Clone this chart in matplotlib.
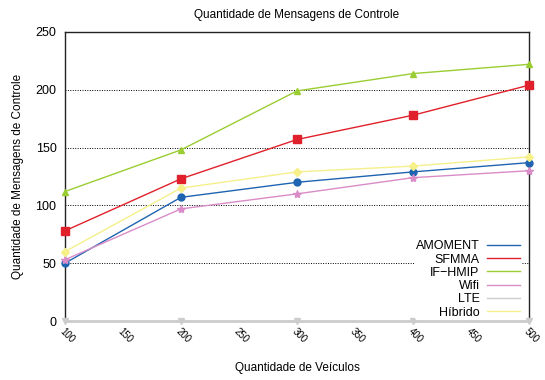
import numpy as np
import matplotlib.pyplot as plt

veiculos = [100, 200, 300, 400, 500]
amoment = [50, 107, 120, 129, 137]
sfmma = [78, 123, 157, 178, 204]
if_hmip = [112, 148, 199, 214, 222]
wifi = [53, 97, 110, 124, 130]
lte = [0, 0, 0, 0, 0]
hibrido = [60, 115, 129, 134, 142]

series = [
    ('AMOMENT', amoment, '#1f64b0', 'o', 5),
    ('SFMMA', sfmma, '#e0202a', 's', 6),
    ('IF\u2212HMIP', if_hmip, '#9acd32', '^', 5),
    ('Wifi', wifi, '#d98cc8', '*', 6),
    ('LTE', lte, '#cccccc', 'v', 4),
    ('Híbrido', hibrido, '#f5f08a', 'D', 4),
]

plt.rcParams['font.family'] = ['Liberation Sans', 'DejaVu Sans']

fig = plt.figure(figsize=(5.45, 3.8), dpi=100)
ax = fig.add_axes([0.119, 0.155, 0.852, 0.761])

for name, vals, color, marker, ms in series:
    ax.plot(veiculos, vals, color=color, marker=marker, markersize=ms,
            linewidth=1.0, label=name, clip_on=False, zorder=3)

ax.set_xlim(100, 500)
ax.set_ylim(0, 250)
ax.set_xticks(np.arange(100, 501, 50))
ax.set_yticks(np.arange(0, 251, 50))
ax.tick_params(axis='x', labelrotation=-45, labelsize=7, length=0, pad=4)
ax.tick_params(axis='y', labelsize=9, length=0, pad=6)
for lbl in ax.get_xticklabels():
    lbl.set_ha('left')
    lbl.set_rotation_mode('anchor')

ax.yaxis.grid(True, linestyle=(0, (1, 1.5)), color='black', linewidth=0.7)
for sp in ax.spines.values():
    sp.set_color('#222222')
    sp.set_linewidth(1.0)

ax.set_title('Quantidade de Mensagens de Controle', fontsize=8.5, pad=10)
ax.set_xlabel('Quantidade de Veículos', fontsize=8.5, labelpad=12)
ax.set_ylabel('Quantidade de Mensagens de Controle', fontsize=8.5, labelpad=8)

leg = ax.legend(loc='lower right', fontsize=9, frameon=True, framealpha=1,
                edgecolor='none', markerfirst=False, handlelength=2.6,
                labelspacing=0.1, borderpad=0.1, handletextpad=0.6,
                borderaxespad=0.1, bbox_to_anchor=(0.985, 0.0))
for h in leg.legend_handles:
    h.set_marker('')
for t in leg.get_texts():
    t.set_ha('right')
leg._legend_box.align = 'right'

fig.savefig('out.png', dpi=100)
